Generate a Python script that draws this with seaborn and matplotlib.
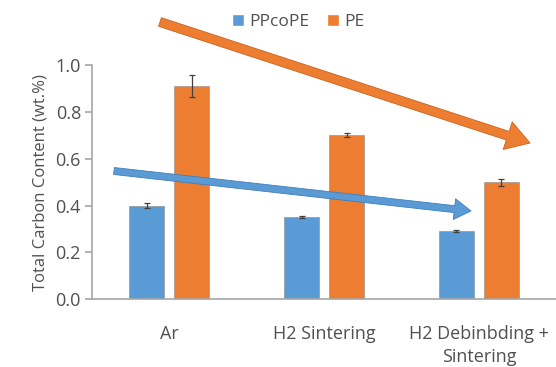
import matplotlib
matplotlib.use("Agg")
import matplotlib.pyplot as plt
from matplotlib.patches import Patch
import seaborn as sns
import pandas as pd

# Process conditions and measured carbon content (wt.%)
conditions = ["Ar", "H2 Sintering", "H2 Debinbding +\nSintering"]
ppcope_values = [0.40, 0.35, 0.29]
pe_values = [0.91, 0.70, 0.50]
ppcope_errors = [0.010, 0.005, 0.005]
pe_errors = [0.048, 0.008, 0.015]
series_names = ["PPcoPE", "PE"]
y_ticks = [0.0, 0.2, 0.4, 0.6, 0.8, 1.0]

blue = "#5B9BD5"
orange = "#ED7D31"
grey_text = "#505050"
spine_grey = "#A6A6A6"

df = pd.DataFrame({
    "Condition": conditions * 2,
    "Series": [series_names[0]] * 3 + [series_names[1]] * 3,
    "Carbon": ppcope_values + pe_values,
})

sns.set_theme(style="white")
plt.rcParams["font.family"] = ["Open Sans", "DejaVu Sans"]

fig = plt.figure(figsize=(5.56, 3.67), dpi=100)
ax = fig.add_axes([0.1655, 0.185, 0.835, 0.6376])

sns.barplot(data=df, x="Condition", y="Carbon", hue="Series",
            order=conditions, hue_order=series_names,
            palette=[blue, orange], saturation=1, width=0.58, gap=0.22,
            errorbar=None, legend=False, ax=ax,
            edgecolor="#8a8a8a", linewidth=0.4)

# error bars placed on the bar centres
errs = ppcope_errors + pe_errors
vals = ppcope_values + pe_values
for patch, v, e in zip(ax.patches, vals, errs):
    cx = patch.get_x() + patch.get_width() / 2
    ax.errorbar(cx, v, yerr=e, fmt="none", ecolor="#404040",
                elinewidth=0.9, capsize=2.2, capthick=0.9, zorder=5)

ax.set_xlim(-0.5, 2.5)
ax.set_ylim(0, 1.0)
ax.set_yticks(y_ticks)
ax.set_yticklabels([f"{t:.1f}" for t in y_ticks])
ax.set_xlabel("")
ax.set_ylabel("Total Carbon Content (wt.%)", fontsize=12,
              color=grey_text, labelpad=5)

for s in ["top", "right"]:
    ax.spines[s].set_visible(False)
for s in ["left", "bottom"]:
    ax.spines[s].set_color(spine_grey)
    ax.spines[s].set_linewidth(1.2)

ax.tick_params(axis="y", which="both", left=True, length=5, width=1.2,
               color=spine_grey, labelsize=13, labelcolor=grey_text, pad=3)
ax.tick_params(axis="x", bottom=False, labelsize=13, labelcolor=grey_text,
               pad=13)
for lab in ax.get_xticklabels():
    lab.set_linespacing(1.3)

# trend arrows
ax.annotate("", xy=(530, 224), xycoords="figure pixels",
            xytext=(160, 345), textcoords="figure pixels",
            arrowprops=dict(arrowstyle="simple,head_length=1.3,head_width=1.6,tail_width=0.5",
                            mutation_scale=13, facecolor=orange,
                            edgecolor="#C9621F", linewidth=0.6,
                            shrinkA=0, shrinkB=0))
ax.annotate("", xy=(471, 156), xycoords="figure pixels",
            xytext=(114, 196), textcoords="figure pixels",
            arrowprops=dict(arrowstyle="simple,head_length=1.2,head_width=1.5,tail_width=0.5",
                            mutation_scale=10, facecolor=blue,
                            edgecolor="#3F7FBA", linewidth=0.6,
                            shrinkA=0, shrinkB=0))

handles = [Patch(facecolor=blue, label=series_names[0]),
           Patch(facecolor=orange, label=series_names[1])]
fig.legend(handles=handles, loc="center", bbox_to_anchor=(0.536, 0.94),
           ncol=2, frameon=False, fontsize=12.5, handlelength=0.7,
           handleheight=0.7, handletextpad=0.3, columnspacing=1.0,
           labelcolor=grey_text)

fig.savefig("out.png", dpi=100)
